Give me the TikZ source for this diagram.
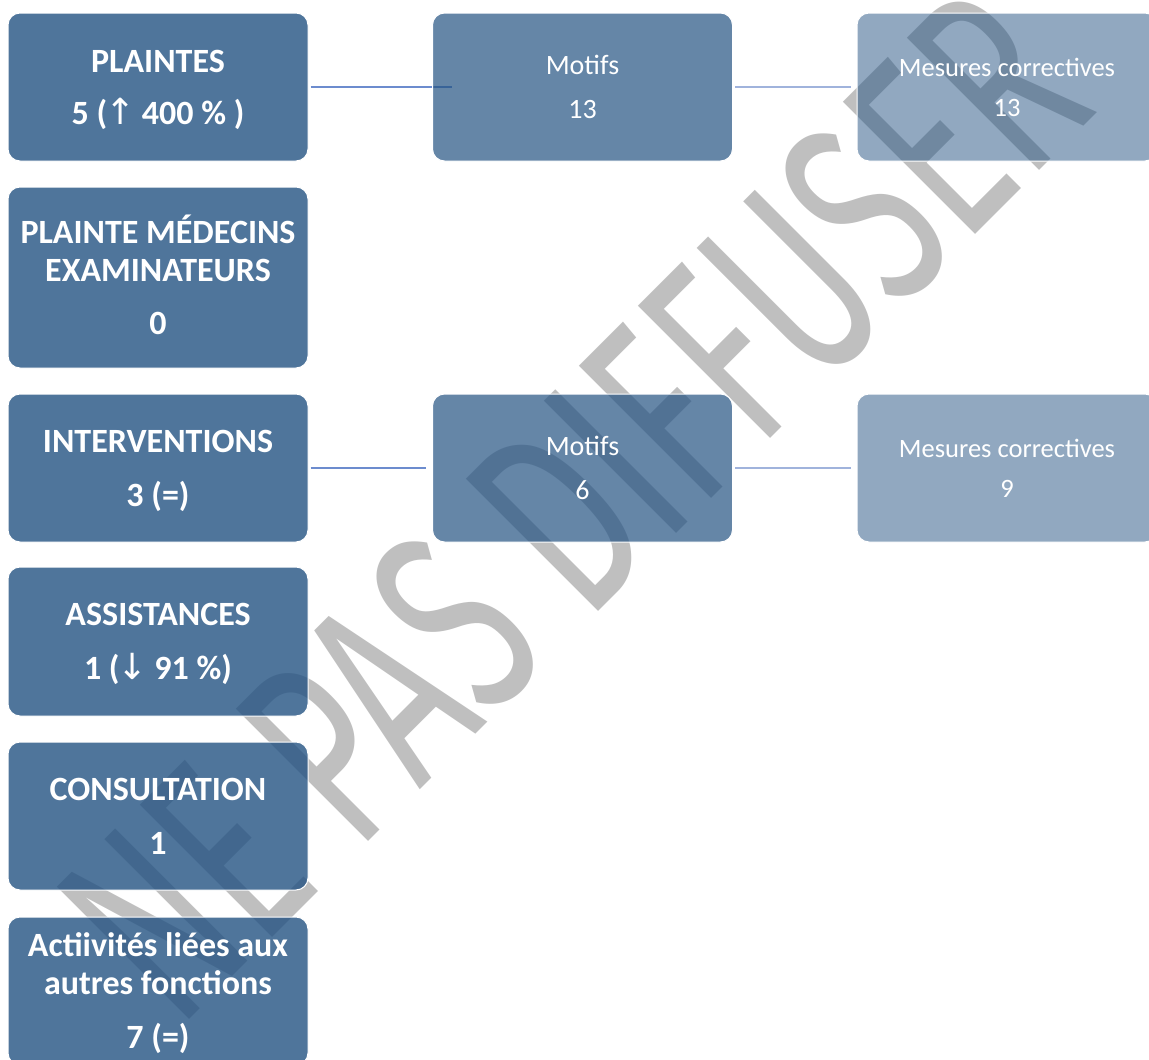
\documentclass[tikz,border=0pt]{standalone}
\usepackage{fontspec}
\usepackage{graphicx}
\setmainfont{Carlito}
\newfontfamily\arrowfont{DejaVu Sans}
\newfontfamily\wmfont{Fira Sans}
\pgfdeclarelayer{wm}
\pgfdeclarelayer{bg}
\pgfsetlayers{wm,bg,main}
\definecolor{boxblue}{RGB}{35,82,130}
\definecolor{lineA}{RGB}{108,140,206}
\definecolor{lineB}{RGB}{160,179,220}
\definecolor{wmgray}{RGB}{191,191,191}
\tikzset{
  box/.style={draw=white, line width=1pt, rounded corners=12pt, fill=boxblue,
    text=white, text opacity=1, align=center, minimum width=300pt,
    minimum height=148pt, inner sep=0pt},
  lvlA/.style={box, fill opacity=0.8, font=\fontsize{34}{38}\selectfont\bfseries},
  lvlB/.style={box, fill opacity=0.7, font=\fontsize{28}{33}\selectfont},
  lvlC/.style={box, fill opacity=0.5, font=\fontsize{26.5}{31}\selectfont},
  conA/.style={draw=lineA, line width=2.5pt},
  conB/.style={draw=lineB, line width=2.5pt},
  wmark/.style={text=wmgray, rotate=45, inner sep=0pt}
}
\newcommand{\arrowsym}[1]{{\arrowfont\mdseries\fontsize{36}{36}\selectfont\kern-2pt#1\kern-1pt}}
% uniform line extents so that every box centres its text the same way
\newcommand{\topA}{\rule{0pt}{30pt}}
\newcommand{\botA}{\rule[-8pt]{0pt}{8pt}}
\newcommand{\topB}{\rule{0pt}{25pt}}
\newcommand{\botB}{\rule[-6pt]{0pt}{6pt}}
\begin{document}
\begin{tikzpicture}[x=1pt,y=-1pt]
\clip (0,0) rectangle (1149,1060);
\begin{pgfonlayer}{wm}
  \node[wmark] (watermark) at (573,504.5)
    {\resizebox{1303pt}{190pt}{\wmfont NE PAS DIFFUSER}};
\end{pgfonlayer}
% left column
\node[lvlA] (plaintes) at (158,87) {\topA PLAINTES\\[14pt]5 (\arrowsym{↑} 400 \% )\botA};
\node[lvlA, minimum height=181pt] (medecins) at (158,277.5) {\topA PLAINTE MÉDECINS\\EXAMINATEURS\\[15pt]0\botA};
\node[lvlA] (interv) at (158,468) {\topA INTERVENTIONS\\[16pt]3 (=)\botA};
\node[lvlA, minimum height=149pt] (assist) at (158,641.5) {\topA ASSISTANCES\\[16pt]1 (\arrowsym{↓} 91 \%)\botA};
\node[lvlA] (consult) at (158,816) {\topA CONSULTATION\\[16pt]1\botA};
\node[lvlA] (activ) at (158,991) {\topA Actiivités liées aux\\autres fonctions\\[16pt]7 (=)\botA};
% second level
\node[lvlB] (motifsA) at (582.5,87) {\topB Motifs\\[11pt]13\botB};
\node[lvlB] (motifsB) at (582.5,468) {\topB Motifs\\[11pt]6\botB};
% third level
\node[lvlC] (mesuresA) at (1007,87) {\topB Mesures correctives\\[9pt]13\botB};
\node[lvlC] (mesuresB) at (1007,468) {\topB Mesures correctives\\[9pt]9\botB};
\begin{pgfonlayer}{bg}
  \draw[conA, shorten <=2pt, shorten >=-20pt] (plaintes.east) -- (motifsA.west);
  \draw[conA, shorten <=2pt, shorten >=6pt] (interv.east) -- (motifsB.west);
  \draw[conB, shorten <=2pt, shorten >=6pt] (motifsA.east) -- (mesuresA.west);
  \draw[conB, shorten <=2pt, shorten >=6pt] (motifsB.east) -- (mesuresB.west);
\end{pgfonlayer}
\end{tikzpicture}
\end{document}
